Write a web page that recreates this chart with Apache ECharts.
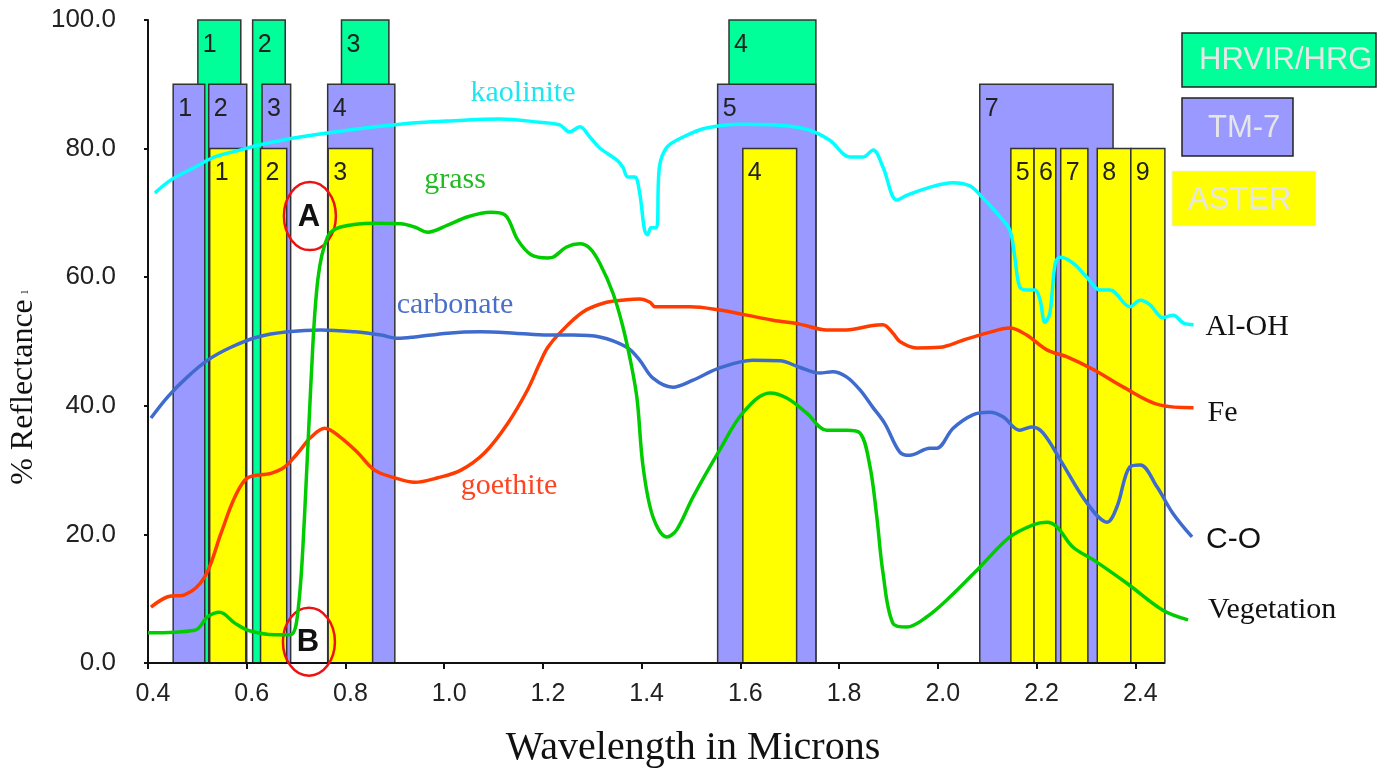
<!DOCTYPE html>
<html>
<head>
<meta charset="utf-8">
<script src="https://cdn.jsdelivr.net/npm/echarts@6/dist/echarts.min.js"></script>
<style>
html,body{margin:0;padding:0;background:#fff;}
#chart{width:1378px;height:770px;}
</style>
</head>
<body>
<div id="chart"></div>
<script>
// ---- tick labels ----
const xTicks = [0.4,0.6,0.8,1.0,1.2,1.4,1.6,1.8,2.0,2.2,2.4];
const xAxisLineEnd = 2.46;   // drawn x-axis line stops here; spectra run a little past it

// ---- sensor bands (microns) ----
const hrvirStart = [0.501,0.612,0.792,1.577];
const hrvirEnd   = [0.588,0.678,0.888,1.753];
const hrvirLabels = ['1','2','3','4'];
const hrvirTop = 100;

const tmStart = [0.451,0.523,0.631,0.764,1.554,2.085];
const tmEnd   = [0.515,0.600,0.689,0.900,1.753,2.355];
const tmLabels = ['1','2','3','4','5','7'];
const tmTop = 90;

const asterStart = [0.525,0.628,0.765,1.605,2.148,2.195,2.249,2.323,2.391];
const asterEnd   = [0.598,0.681,0.855,1.714,2.195,2.239,2.304,2.391,2.460];
const asterLabels = ['1','2','3','4','5','6','7','8','9'];
const asterTop = 80;

// ---- spectra: [wavelength, % reflectance] ----
const kaolinite = [[0.414,73.1],[0.446,75.1],[0.495,77.1],[0.535,78.7],[0.588,79.8],[0.627,80.6],[0.708,81.8],[0.809,82.9],[0.910,83.8],[1.012,84.3],[1.113,84.6],[1.194,84.1],[1.234,83.7],[1.254,82.6],[1.275,83.4],[1.295,81.8],[1.315,80.1],[1.350,78.2],[1.362,77.1],[1.372,75.6],[1.386,75.6],[1.396,73.1],[1.406,67.3],[1.412,66.6],[1.419,67.7],[1.430,67.7],[1.436,77.1],[1.451,80.2],[1.484,81.8],[1.531,83.2],[1.599,83.8],[1.666,83.7],[1.734,83.0],[1.781,81.3],[1.822,78.7],[1.849,78.7],[1.869,79.8],[1.889,77.1],[1.917,72.0],[1.939,72.8],[1.980,73.9],[2.030,74.7],[2.065,74.2],[2.089,72.5],[2.126,69.4],[2.146,67.3],[2.156,63.1],[2.166,58.5],[2.182,58.0],[2.197,58.0],[2.207,56.5],[2.217,53.0],[2.227,54.4],[2.238,62.2],[2.248,63.1],[2.274,62.2],[2.302,60.0],[2.329,58.0],[2.349,58.0],[2.389,55.4],[2.410,56.4],[2.430,55.7],[2.456,53.7],[2.477,54.1],[2.497,52.9],[2.518,52.6]];

const grass = [[0.400,4.7],[0.495,5.1],[0.521,7.2],[0.545,7.9],[0.576,6.2],[0.602,5.1],[0.657,4.4],[0.689,4.4],[0.704,8.2],[0.717,22.7],[0.730,43.5],[0.744,59.6],[0.764,66.3],[0.790,67.8],[0.859,68.4],[0.912,68.3],[0.940,67.8],[0.967,67.0],[1.007,68.1],[1.048,69.4],[1.094,70.1],[1.123,69.7],[1.149,65.8],[1.176,63.5],[1.210,63.0],[1.220,63.1],[1.248,64.7],[1.275,65.2],[1.295,64.5],[1.315,62.2],[1.342,57.5],[1.362,52.3],[1.380,46.0],[1.391,40.9],[1.403,30.5],[1.423,22.7],[1.451,19.6],[1.471,20.7],[1.504,25.8],[1.558,33.1],[1.605,38.9],[1.660,42.0],[1.694,41.2],[1.734,38.9],[1.775,36.2],[1.815,36.2],[1.842,35.8],[1.862,30.8],[1.876,23.0],[1.889,14.0],[1.909,6.2],[1.937,5.6],[1.978,7.2],[2.025,10.3],[2.085,14.9],[2.146,19.6],[2.193,21.5],[2.221,21.9],[2.241,21.2],[2.274,18.0],[2.316,16.0],[2.383,12.4],[2.456,8.2],[2.507,6.7]];

const carbonate = [[0.406,38.1],[0.440,41.4],[0.480,44.5],[0.521,47.1],[0.568,49.1],[0.622,50.7],[0.683,51.5],[0.750,51.8],[0.819,51.5],[0.872,51.0],[0.906,50.5],[0.940,50.7],[1.007,51.3],[1.074,51.5],[1.143,51.3],[1.210,51.0],[1.261,51.0],[1.315,50.7],[1.370,49.1],[1.396,47.1],[1.423,44.3],[1.463,42.9],[1.504,44.0],[1.558,45.9],[1.625,47.1],[1.680,47.0],[1.720,46.0],[1.761,45.1],[1.787,45.3],[1.815,44.5],[1.842,42.5],[1.868,39.8],[1.893,37.2],[1.923,32.8],[1.943,32.3],[1.984,33.4],[1.998,33.4],[2.031,36.5],[2.071,38.6],[2.105,39.0],[2.132,38.3],[2.166,36.2],[2.190,36.7],[2.213,35.8],[2.248,31.6],[2.302,24.9],[2.343,21.9],[2.363,24.3],[2.389,30.5],[2.410,30.8],[2.444,27.4],[2.476,23.3],[2.515,19.6]];

const goethite = [[0.406,8.7],[0.440,10.3],[0.474,10.6],[0.515,13.4],[0.548,20.2],[0.576,25.8],[0.602,28.8],[0.649,29.5],[0.677,30.5],[0.704,32.7],[0.730,35.1],[0.758,36.5],[0.790,35.1],[0.825,32.7],[0.859,30.0],[0.900,28.8],[0.940,28.1],[0.987,28.8],[1.034,30.0],[1.082,32.7],[1.129,37.3],[1.169,42.5],[1.194,46.7],[1.210,49.1],[1.234,51.3],[1.281,54.6],[1.329,56.1],[1.370,56.5],[1.396,56.6],[1.417,56.1],[1.427,55.4],[1.498,55.4],[1.558,54.9],[1.613,54.1],[1.666,53.3],[1.720,52.7],[1.775,51.8],[1.815,51.8],[1.868,52.5],[1.889,52.6],[1.909,51.3],[1.923,50.0],[1.957,49.0],[2.004,49.1],[2.051,50.2],[2.099,51.3],[2.146,52.1],[2.180,51.0],[2.221,48.7],[2.262,47.6],[2.316,45.6],[2.376,42.9],[2.451,40.1],[2.518,39.7]];

// ---- annotation ellipses A / B ----
const markerPos = [[0.728,69.5],[0.726,3.3]];
const markerLabels = ['A','B'];

const SANS = '"Liberation Sans", Arial, sans-serif';
const SERIF = '"Liberation Serif", "Times New Roman", serif';

function bandSeries(name, starts, ends, top, labels, fill) {
  return {
    type: 'custom',
    name: name,
    silent: true,
    data: starts.map((s, i) => [s, ends[i], top]),
    renderItem: function (params, api) {
      const p0 = api.coord([api.value(0), api.value(2)]);
      const p1 = api.coord([api.value(1), 0]);
      return {
        type: 'group',
        children: [
          { type: 'rect', shape: { x: p0[0], y: p0[1], width: p1[0] - p0[0], height: p1[1] - p0[1] },
            style: { fill: fill, stroke: '#333', lineWidth: 1.5 } },
          { type: 'text', x: p0[0] + 5, y: p0[1] + 25,
            style: { text: labels[params.dataIndex], font: '25px ' + SANS, fill: '#222',
                     align: 'left', verticalAlign: 'middle' } }
        ]
      };
    }
  };
}

function lineSeries(name, data, color, endText, endFont, endOffset, endDist) {
  return {
    type: 'line', name: name, data: data, showSymbol: false, symbol: 'none',
    smooth: 0.35, silent: true,
    lineStyle: { color: color, width: 3.5 },
    endLabel: { show: true, formatter: endText, fontFamily: endFont, fontSize: 30,
                color: '#111', distance: endDist, offset: endOffset }
  };
}

const chart = echarts.init(document.getElementById('chart'), null, { renderer: 'canvas' });
chart.setOption({
  animation: false,
  backgroundColor: '#fff',
  grid: { left: 148, top: 20, right: 183.5, bottom: 107, containLabel: false },
  xAxis: {
    type: 'value', min: 0.4, max: 2.52, interval: 0.2,
    axisLine: { show: false },
    axisTick: { show: true, length: 6, customValues: xTicks, lineStyle: { color: '#111', width: 2 } },
    axisLabel: { customValues: xTicks, formatter: v => v.toFixed(1), fontFamily: SANS, fontSize: 25,
                 color: '#222', margin: 19, padding: [0,0,0,10] },
    splitLine: { show: false }
  },
  yAxis: {
    type: 'value', min: 0, max: 100, interval: 20,
    axisLine: { show: true, lineStyle: { color: '#111', width: 2 } },
    axisTick: { show: true, length: 4, lineStyle: { color: '#111', width: 2 } },
    axisLabel: { formatter: v => v.toFixed(1), fontFamily: SANS, fontSize: 26, color: '#222',
                 margin: 32, padding: [10,0,0,0] },
    splitLine: { show: false }
  },
  series: [
    bandSeries('HRVIR/HRG', hrvirStart, hrvirEnd, hrvirTop, hrvirLabels, '#00FF99'),
    bandSeries('TM-7', tmStart, tmEnd, tmTop, tmLabels, '#9999FF'),
    bandSeries('ASTER', asterStart, asterEnd, asterTop, asterLabels, '#FFFF00'),
    {
      type: 'custom', name: 'x axis line', silent: true,
      data: [[xTicks[0], xAxisLineEnd]],
      renderItem: function (params, api) {
        const a = api.coord([api.value(0), 0]);
        const b = api.coord([api.value(1), 0]);
        return { type: 'line', shape: { x1: a[0] - 1, y1: a[1], x2: b[0], y2: b[1] },
                 style: { stroke: '#111', lineWidth: 2 } };
      }
    },
    lineSeries('kaolinite', kaolinite, '#00FFFF', 'Al-OH', SERIF, [0, 2], 12),
    lineSeries('goethite', goethite, '#FF3B00', 'Fe', SERIF, [0, 5], 14),
    lineSeries('carbonate', carbonate, '#3F6BCF', 'C-O', SANS, [0, 3], 14),
    lineSeries('grass', grass, '#00CC00', 'Vegetation', SERIF, [0, -10], 20),
    {
      type: 'custom', name: 'markers', silent: true, clip: false,
      data: markerPos,
      renderItem: function (params, api) {
        const p = api.coord([api.value(0), api.value(1)]);
        return {
          type: 'group',
          children: [
            { type: 'ellipse', shape: { cx: p[0], cy: p[1], rx: 26, ry: 34 },
              style: { fill: 'none', stroke: '#EE1111', lineWidth: 2.5 } },
            { type: 'text', x: p[0] - 1, y: p[1] + 1,
              style: { text: markerLabels[params.dataIndex], font: 'bold 31px ' + SANS, fill: '#111',
                       align: 'center', verticalAlign: 'middle' } }
          ]
        };
      }
    }
  ],
  graphic: [
    { type: 'rect', shape: { x: 1182, y: 33, width: 194, height: 54 }, style: { fill: '#00FF99', stroke: '#222', lineWidth: 1.5 } },
    { type: 'text', x: 1199, y: 60, style: { text: 'HRVIR/HRG', font: '31px ' + SANS, fill: '#e6e6e6', align: 'left', verticalAlign: 'middle' } },
    { type: 'rect', shape: { x: 1182, y: 98, width: 111, height: 58 }, style: { fill: '#9999FF', stroke: '#222', lineWidth: 1.5 } },
    { type: 'text', x: 1208, y: 128, style: { text: 'TM-7', font: '31px ' + SANS, fill: '#e6e6e6', align: 'left', verticalAlign: 'middle' } },
    { type: 'rect', shape: { x: 1172, y: 171, width: 144, height: 55 }, style: { fill: '#FFFF00', stroke: '#eeeeee', lineWidth: 1 } },
    { type: 'text', x: 1188, y: 200, style: { text: 'ASTER', font: '31px ' + SANS, fill: '#e6e6e6', align: 'left', verticalAlign: 'middle' } },

    { type: 'text', x: 523, y: 93, style: { text: 'kaolinite', font: '30px ' + SERIF, fill: '#1EE6F0', align: 'center', verticalAlign: 'middle' } },
    { type: 'text', x: 455, y: 180, style: { text: 'grass', font: '30px ' + SERIF, fill: '#22BB22', align: 'center', verticalAlign: 'middle' } },
    { type: 'text', x: 455, y: 305, style: { text: 'carbonate', font: '30px ' + SERIF, fill: '#4A6FC8', align: 'center', verticalAlign: 'middle' } },
    { type: 'text', x: 509, y: 486, style: { text: 'goethite', font: '30px ' + SERIF, fill: '#FF4422', align: 'center', verticalAlign: 'middle' } },

    { type: 'text', x: 693, y: 748, style: { text: 'Wavelength in Microns', font: '40px ' + SERIF, fill: '#111', align: 'center', verticalAlign: 'middle' } },
    { type: 'text', x: 24, y: 392, rotation: Math.PI / 2, style: { text: '% Reflectance', font: '32px ' + SERIF, fill: '#111', align: 'center', verticalAlign: 'middle' } },
    { type: 'text', x: 24, y: 292, rotation: Math.PI / 2, style: { text: 'ı', font: '14px ' + SERIF, fill: '#333', align: 'center', verticalAlign: 'middle' } }
  ]
});
</script>
</body>
</html>
